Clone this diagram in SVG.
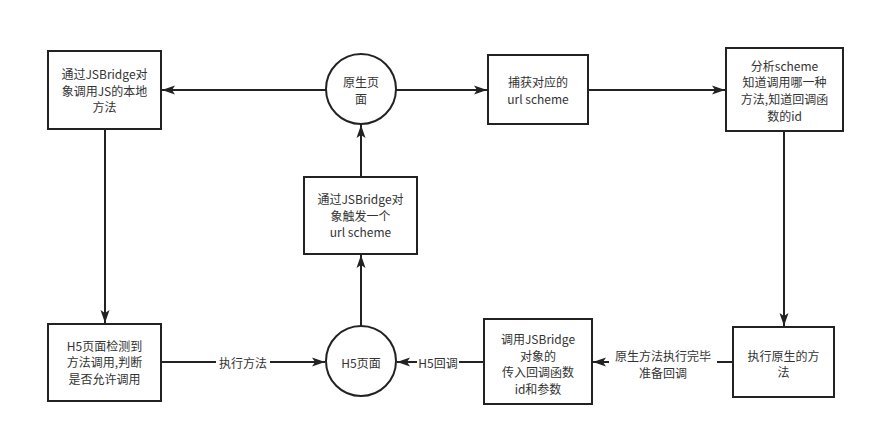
<svg xmlns="http://www.w3.org/2000/svg" width="874" height="437" viewBox="0 0 874 437">
<style>
.n{fill:#fff;stroke:#222;stroke-width:2}
.t{font-family:"Noto Sans CJK SC","Liberation Sans",sans-serif;font-size:12px;fill:#333;text-anchor:middle;dominant-baseline:central}
.e{fill:none;stroke:#222;stroke-width:2}
.lb{fill:#fff}
</style>
<defs>
<marker id="a" markerUnits="userSpaceOnUse" markerWidth="14" markerHeight="10" refX="13" refY="5" orient="auto">
<path d="M0,0.5 L13,5 L0,9.5 L3,5 Z" fill="#222"/>
</marker>
</defs>
<rect width="874" height="437" fill="#fff"/>
<g id="connectors">
<line class="e" x1="326" y1="90" x2="162" y2="90" marker-end="url(#a)"/>
<line class="e" x1="396" y1="90" x2="487" y2="90" marker-end="url(#a)"/>
<line class="e" x1="588" y1="90" x2="725" y2="90" marker-end="url(#a)"/>
<line class="e" x1="784" y1="131" x2="784" y2="326" marker-end="url(#a)"/>
<line class="e" x1="733" y1="362" x2="593" y2="362" marker-end="url(#a)"/>
<line class="e" x1="484" y1="362" x2="397" y2="362" marker-end="url(#a)"/>
<line class="e" x1="161" y1="362" x2="325" y2="362" marker-end="url(#a)"/>
<line class="e" x1="361" y1="326" x2="361" y2="255" marker-end="url(#a)"/>
<line class="e" x1="361" y1="177" x2="361" y2="125" marker-end="url(#a)"/>
<line class="e" x1="105" y1="129" x2="105" y2="323" marker-end="url(#a)"/>
<rect class="lb" x="609" y="348" width="108" height="31"/>
<text class="t" x="663" y="355">原生方法执行完毕</text>
<text class="t" x="663" y="372">准备回调</text>
<rect class="lb" x="417" y="354" width="42" height="16"/>
<text class="t" x="438" y="362">H5回调</text>
<rect class="lb" x="216" y="354" width="54" height="16"/>
<text class="t" x="243" y="362">执行方法</text>
</g>
<g id="n1">
<rect class="n" x="48" y="51" width="113" height="78"/>
<text class="t" x="104.5" y="73.3">通过JSBridge对</text>
<text class="t" x="104.5" y="90">象调用JS的本地</text>
<text class="t" x="104.5" y="106.7">方法</text>
</g>
<g id="n2">
<circle class="n" cx="361" cy="89" r="35"/>
<text class="t" x="361" y="81.7">原生页</text>
<text class="t" x="361" y="98.3">面</text>
</g>
<g id="n3">
<rect class="n" x="488" y="55" width="100" height="69"/>
<text class="t" x="538" y="81.7">捕获对应的</text>
<text class="t" x="538" y="98.3">url scheme</text>
</g>
<g id="n4">
<rect class="n" x="726" y="48" width="117" height="83"/>
<text class="t" x="784.5" y="65">分析scheme</text>
<text class="t" x="784.5" y="81.7">知道调用哪一种</text>
<text class="t" x="784.5" y="98.3">方法,知道回调函</text>
<text class="t" x="784.5" y="115">数的id</text>
</g>
<g id="n5">
<rect class="n" x="304" y="177" width="113" height="77"/>
<text class="t" x="360.5" y="198.3">通过JSBridge对</text>
<text class="t" x="360.5" y="215">象触发一个</text>
<text class="t" x="360.5" y="231.7">url scheme</text>
</g>
<g id="n6">
<rect class="n" x="48" y="324" width="113" height="77"/>
<text class="t" x="104.5" y="345">H5页面检测到</text>
<text class="t" x="104.5" y="361.7">方法调用,判断</text>
<text class="t" x="104.5" y="378.3">是否允许调用</text>
</g>
<g id="n7">
<circle class="n" cx="361" cy="361" r="35"/>
<text class="t" x="361" y="362">H5页面</text>
</g>
<g id="n8">
<rect class="n" x="484" y="319" width="108" height="85"/>
<text class="t" x="538" y="338.3">调用JSBridge</text>
<text class="t" x="538" y="355">对象的</text>
<text class="t" x="538" y="371.7">传入回调函数</text>
<text class="t" x="538" y="388.3">id和参数</text>
</g>
<g id="n9">
<rect class="n" x="733" y="327" width="101" height="70"/>
<text class="t" x="783.5" y="355">执行原生的方</text>
<text class="t" x="783.5" y="371.7">法</text>
</g>
</svg>
